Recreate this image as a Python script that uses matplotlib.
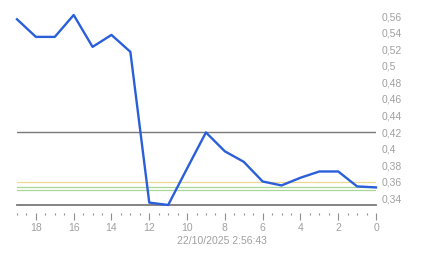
import numpy as np
import matplotlib
matplotlib.use("Agg")
import matplotlib.pyplot as plt
from matplotlib.ticker import MultipleLocator, FuncFormatter

# values, oldest (19) to newest (0)
x_vals = [19, 18, 17, 16, 15, 14, 13, 12, 11, 10, 9, 8, 7, 6, 5, 4, 3, 2, 1, 0]
y_vals = [0.5565, 0.5352, 0.5352, 0.5617, 0.5231, 0.5376, 0.5171, 0.3345, 0.3316, 0.3758,
          0.4195, 0.3966, 0.3839, 0.3601, 0.3553, 0.3646, 0.3722, 0.3722, 0.3541, 0.3529]

ref_gray = 0.42
ref_yellow = 0.3589
ref_green = [0.3540, 0.3500]
timestamp = "22/10/2025 2:56:43"

plt.rcParams['font.family'] = ['Liberation Sans', 'DejaVu Sans']
label_color = "#a0a0a0"

fig = plt.figure(figsize=(4.43, 2.58), dpi=100)
ax = fig.add_axes([17 / 443, 53 / 258, 359 / 443, 190 / 258])

ymin, ymax = 0.3316, 0.5617
ax.set_xlim(19, 0)
ax.set_ylim(ymin, ymax)

ax.axhline(ref_gray, color="#7a7a7a", lw=1.0, zorder=1)
ax.axhline(ref_yellow, color="#ecd890", lw=0.9, zorder=1)
for g in ref_green:
    ax.axhline(g, color="#a8d896", lw=0.9, zorder=1)
ax.axhline(ymin, color="#7a7a7a", lw=1.3, zorder=1, clip_on=False)

ax.plot(x_vals, y_vals, color="#2b5fd9", lw=1.7, zorder=3, clip_on=False)

for s in ["top", "right", "left"]:
    ax.spines[s].set_visible(False)
ax.spines["bottom"].set_position(("outward", 6))
ax.spines["bottom"].set_visible(False)

ax.xaxis.set_major_locator(MultipleLocator(2))
ax.xaxis.set_minor_locator(MultipleLocator(0.5))
ax.tick_params(axis="x", which="major", length=5, width=0.8, color="#909090",
               labelsize=7.5, labelcolor=label_color, pad=2)
ax.tick_params(axis="x", which="minor", length=1.5, width=0.8, color="#909090")

ax.yaxis.tick_right()
ax.yaxis.set_major_locator(MultipleLocator(0.02))
ax.yaxis.set_major_formatter(FuncFormatter(lambda v, p: f"{v:.2f}".rstrip("0").replace(".", ",")))
ax.tick_params(axis="y", which="both", length=0, labelsize=7.5, labelcolor=label_color, pad=4)

fig.text(0.5, 1 - 241 / 258, timestamp, ha="center", va="center", fontsize=7.5, color=label_color)

fig.savefig("out.png", dpi=100)
